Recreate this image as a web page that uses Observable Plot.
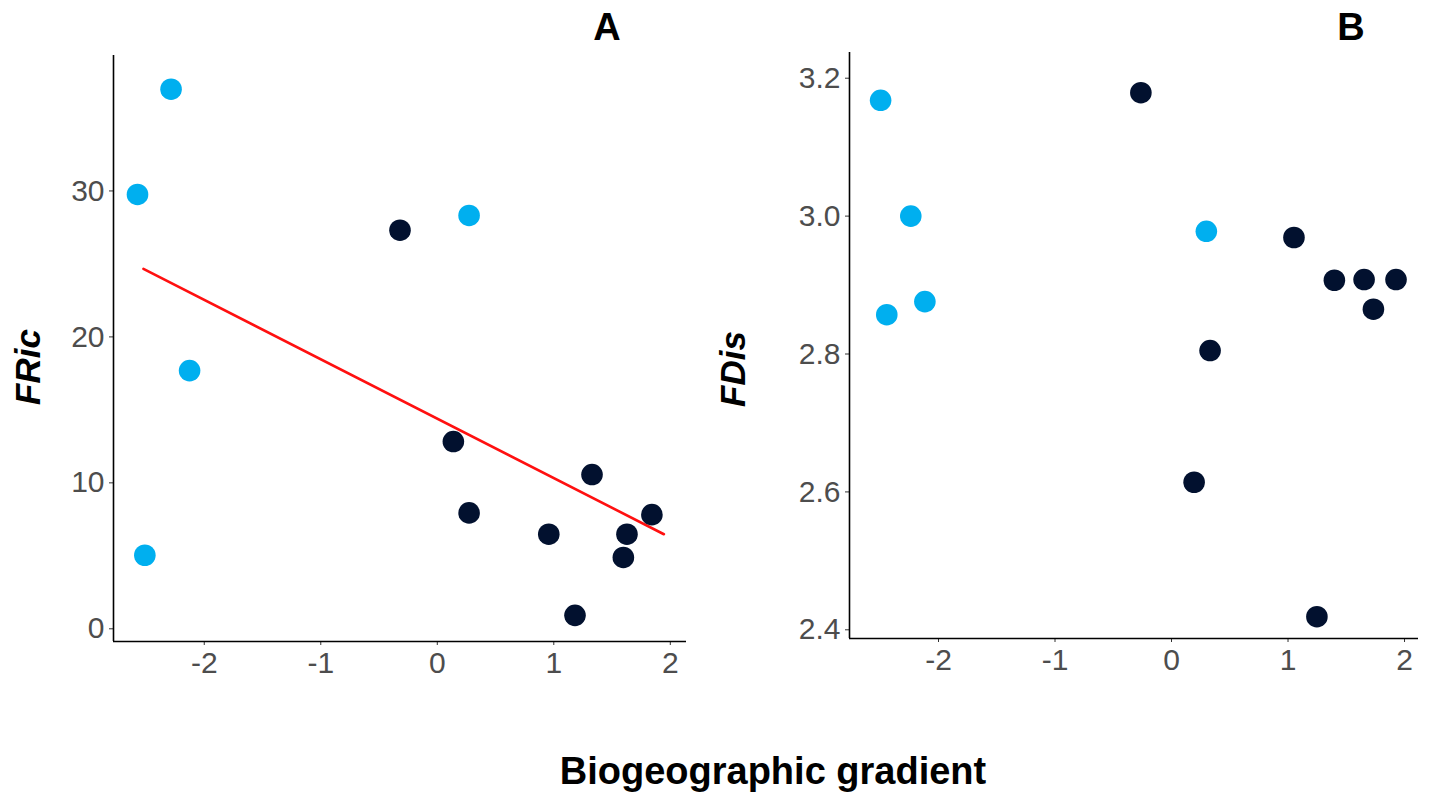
<!DOCTYPE html>
<html>
<head>
<meta charset="utf-8">
<script src="https://cdn.jsdelivr.net/npm/d3@7"></script>
<script src="https://cdn.jsdelivr.net/npm/@observablehq/plot@0.6"></script>
<style>
  html, body { margin: 0; padding: 0; background: #fff; }
  #root { position: relative; width: 1435px; height: 796px; overflow: hidden; background: #fff;
          font-family: "Liberation Sans", Arial, sans-serif; }
  .panel { position: absolute; top: 0; }
  .lbl { position: absolute; white-space: nowrap; line-height: 1; color: #000; font-weight: bold;
         font-family: "Liberation Sans", Arial, sans-serif; }
</style>
</head>
<body>
<div id="root">
  <div id="pa" class="panel" style="left:0px"></div>
  <div id="pb" class="panel" style="left:700px"></div>
  <div class="lbl" style="left:607px; top:27px; font-size:38px; transform:translate(-50%,-50%)">A</div>
  <div class="lbl" style="left:1351px; top:27px; font-size:38px; transform:translate(-50%,-50%)">B</div>
  <div class="lbl" style="left:27px; top:367px; font-size:35px; font-style:italic; transform:translate(-50%,-50%) rotate(-90deg)">FRic</div>
  <div class="lbl" style="left:732px; top:369px; font-size:35px; font-style:italic; transform:translate(-50%,-50%) rotate(-90deg)">FDis</div>
  <div class="lbl" style="left:773px; top:771px; font-size:38px; transform:translate(-50%,-50%)">Biogeographic gradient</div>
</div>
<script>
// ---- data ----
const groups = ["light","light","light","light","light","dark","dark","dark","dark","dark","dark","dark","dark","dark"];

// Panel A: FRic
const fricX = [-2.285, -2.573, 0.273, -2.126, -2.51, -0.32, 0.138, 1.328, 0.273, 0.957, 1.628, 1.597, 1.842, 1.182];
const fricY = [36.97, 29.76, 28.32, 17.69, 5.04, 27.31, 12.83, 10.57, 7.94, 6.48, 6.48, 4.89, 7.82, 0.92];

// regression line (panel A) endpoints
const fitX = [-2.522, 1.945];
const fitY = [24.66, 6.48];

// Panel B: FDis
const fdisX = [-2.497, -2.238, -2.444, -2.117, 0.299, -0.263, 1.051, 1.398, 1.653, 1.927, 1.733, 0.331, 0.194, 1.248];
const fdisY = [3.168, 3.0, 2.857, 2.876, 2.978, 3.179, 2.969, 2.907, 2.908, 2.908, 2.865, 2.805, 2.614, 2.419];

const xTicks = [-2, -1, 0, 1, 2];
const fricTicks = [0, 10, 20, 30];
const fdisTicks = [2.4, 2.6, 2.8, 3.0, 3.2];

const groupDomain = ["light", "dark"];
const groupColors = ["#00AFEF", "#02112F"];

// ---- build ----
const ptsA = fricX.map((x, i) => ({x, y: fricY[i], g: groups[i]}));
const ptsB = fdisX.map((x, i) => ({x, y: fdisY[i], g: groups[i]}));
const fit = fitX.map((x, i) => ({x, y: fitY[i]}));

const style = {fontFamily: '"Liberation Sans", Arial, sans-serif', fontSize: "30px", color: "#4D4D4D", background: "transparent", overflow: "visible"};

function panel({pts, xDomain, yDomain, yTicks, yFmt, extra, m}) {
  return Plot.plot({
    width: m.width, height: 700,
    marginLeft: m.left, marginRight: m.right, marginTop: m.top, marginBottom: m.bottom,
    style,
    x: {domain: xDomain, label: null},
    y: {domain: yDomain, label: null},
    color: {domain: groupDomain, range: groupColors},
    marks: [
      Plot.axisX({ticks: xTicks, tickFormat: d => String(d), tickSize: 4, tickPadding: 6, stroke: "#333333", fill: "#4D4D4D", label: null}),
      Plot.axisY({ticks: yTicks, tickFormat: yFmt, tickSize: 4, tickPadding: 5, stroke: "#333333", fill: "#4D4D4D", label: null}),
      ...extra,
      Plot.dot(pts, {x: "x", y: "y", fill: "g", r: 10.8, stroke: "none"}),
      Plot.ruleX([xDomain[0]], {stroke: "#000", strokeWidth: 1.6}),
      Plot.ruleY([yDomain[0]], {stroke: "#000", strokeWidth: 1.6})
    ]
  });
}

document.getElementById("pa").append(panel({
  pts: ptsA,
  xDomain: [-2.779, 2.139],
  yDomain: [-0.87, 39.28],
  yTicks: fricTicks,
  yFmt: d => String(d),
  extra: [Plot.line(fit, {x: "x", y: "y", stroke: "#FF1010", strokeWidth: 2.6})],
  m: {width: 700, left: 113, right: 14, top: 55, bottom: 59}
}));

document.getElementById("pb").append(panel({
  pts: ptsB,
  xDomain: [-2.764, 2.12],
  yDomain: [2.3874, 3.2373],
  yTicks: fdisTicks,
  yFmt: d => d.toFixed(1),
  extra: [],
  m: {width: 735, left: 149, right: 17, top: 52, bottom: 62}
}));
</script>
</body>
</html>
